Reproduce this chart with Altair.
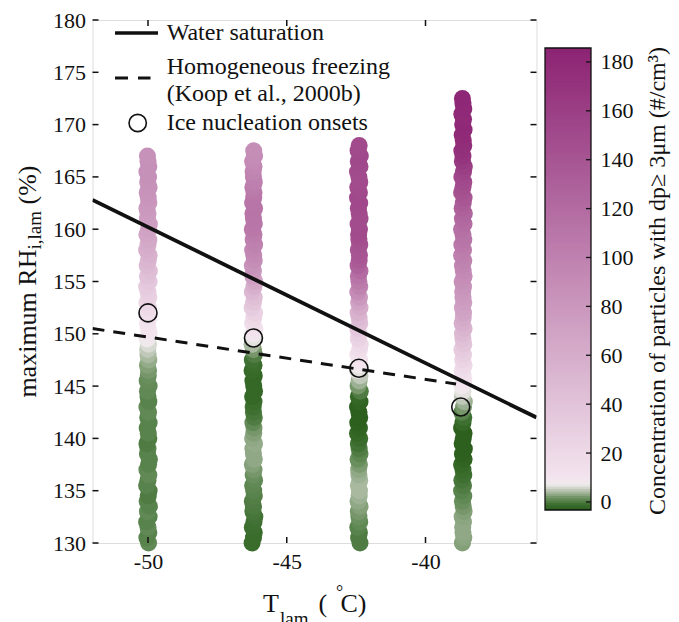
import altair as alt
import pandas as pd
import numpy as np

FONT = "Liberation Serif"
INK = "#111111"

# ---------------- data ----------------
col_T = [-50.0, -46.2, -42.4, -38.65]

col1_rh = [130,130.5,131,131.5,132,132.5,133,133.5,134,134.5,135,135.5,136,136.5,137,137.5,
           138,138.5,139,139.5,140,140.5,141,141.5,142,142.5,143,143.5,144,144.5,145,145.5,
           146,146.5,147,147.5,148,148.5,149,149.5,150,150.5,151,151.5,152,152.5,153,153.5,
           154,154.5,155,155.5,156,156.5,157,157.5,158,158.5,159,159.5,160,160.5,161,161.5,
           162,162.5,163,163.5,164,164.5,165,165.5,166,166.5,167]
col1_conc = [1,0.5,0.5,1,0.5,0.5,1,0.5,0.5,0,0,0.5,0.5,1,1,0.5,
             0.5,0.5,0.5,0,0,0.5,0.5,0.5,0.5,1,1,0.5,0.5,1,1,1.2,
             1.5,2,2.5,3.2,4,5,6,7.5,9,10,11,13,15,18,22,26,
             30,33,36,40,44,48,52,55,58,61,64,67,70,72,74,76,
             78,80,82,83,84,85,86,86,86,86,85]

col2_rh = [130,130.5,131,131.5,132,132.5,133,133.5,134,134.5,135,135.5,136,136.5,137,137.5,
           138,138.5,139,139.5,140,140.5,141,141.5,142,142.5,143,143.5,144,144.5,145,145.5,
           146,146.5,147,147.5,148,148.5,149,149.5,150,150.5,151,151.5,152,152.5,153,153.5,
           154,154.5,155,155.5,156,156.5,157,157.5,158,158.5,159,159.5,160,160.5,161,161.5,
           162,162.5,163,163.5,164,164.5,165,165.5,166,166.5,167,167.5]
col2_conc = [-1.5,-1.5,-1.5,-1.2,-1,-0.8,-0.5,-0.2,0,0.2,0.5,0.8,1,1.5,2,2.5,
             3,3,3,3.2,3,2.5,2,1,0,-0.5,-1,-1.5,-2,-2,-2,-2,
             -2,-1.8,-1.5,-1,0,2,4,6.5,9,12,16,21,26,32,38,44,
             50,57,65,72,80,84,88,92,95,98,100,104,108,109,110,111,
             112,111,110,108,105,102,100,97,95,92,90,88]

col3_rh = [130,130.5,131,131.5,132,132.5,133,133.5,134,134.5,135,135.5,136,136.5,137,137.5,
           138,138.5,139,139.5,140,140.5,141,141.5,142,142.5,143,143.5,144,144.5,145,145.5,
           146,146.5,147,147.5,148,148.5,149,149.5,150,150.5,151,151.5,152,152.5,153,153.5,
           154,154.5,155,155.5,156,156.5,157,157.5,158,158.5,159,159.5,160,160.5,161,161.5,
           162,162.5,163,163.5,164,164.5,165,165.5,166,166.5,167,167.5,168]
col3_conc = [0,0,0,0.5,1,1.5,2,2.5,3,3.5,4,4,4,3.5,3,2.2,
             1.5,0.8,0,-0.8,-1.5,-2,-2.5,-2.8,-3,-3,-3,-2.5,-2,0,2,3.5,
             5,6.5,8,10,12,16,20,25,30,36,42,48,55,62,70,80,
             90,98,105,112,120,128,135,138,140,142,145,148,150,149,148,149,
             150,151,152,151,150,149,148,149,150,151,152,151,150]

col4_rh = [130,130.5,131,131.5,132,132.5,133,133.5,134,134.5,135,135.5,136,136.5,137,137.5,
           138,138.5,139,139.5,140,140.5,141,141.5,142,142.5,143,143.5,144,144.5,145,145.5,
           146,146.5,147,147.5,148,148.5,149,149.5,150,150.5,151,151.5,152,152.5,153,153.5,
           154,154.5,155,155.5,156,156.5,157,157.5,158,158.5,159,159.5,160,160.5,161,161.5,
           162,162.5,163,163.5,164,164.5,165,165.5,166,166.5,167,167.5,168,168.5,169,169.5,
           170,170.5,171,171.5,172,172.5]
col4_conc = [2.5,2.8,3,3,3,2.8,2.5,2,1.5,1,0.5,0,-0.5,-1,-1.5,-2,
             -2.5,-2.8,-3,-3,-3,-3,-3,-2,-1,0.5,2,3.5,5,6.5,8,10,
             13,16,20,24,28,33,38,43,48,53,58,63,68,71,74,77,
             80,83,86,89,92,95,98,101,104,107,110,112,115,118,122,126,
             130,134,138,142,145,148,152,156,160,165,170,173,175,177,178,179,
             180,179,178,179,180,182]

# small horizontal wobble of the points (degC)
wobble = [0.02,-0.04,0.03,0.00,-0.05,0.04,-0.02,0.05,-0.03,0.01,0.04,-0.05,0.00,0.03,-0.04,
          0.02,0.05,-0.02,0.00,-0.04,0.03,0.01,-0.03,0.04,-0.01,0.02,-0.04,0.03,0.00,-0.02,
          0.04,-0.03,0.01,0.02,-0.02,0.03,0.00,-0.01,0.02,-0.03,0.04,0.01,-0.02,0.03,-0.05]
wobble_shift = [0, 11, 23, 34]

onset_T = [-50.0, -46.2, -42.4, -38.73]
onset_RH = [152.0, 149.6, 146.7, 143.0]

ws_T = [-52, -36]
ws_RH = [162.8, 142.0]
koop_T = [-52, -38.9]
koop_RH = [150.5, 145.2]

x_ticks = [-50, -45, -40]
y_ticks = [130, 135, 140, 145, 150, 155, 160, 165, 170, 175, 180]
cb_ticks = [0, 20, 40, 60, 80, 100, 120, 140, 160, 180]
cb_lo, cb_hi = -3.3, 185.7

# ---------------- tables ----------------
rows = []
cols = [(col1_rh, col1_conc), (col2_rh, col2_conc), (col3_rh, col3_conc), (col4_rh, col4_conc)]
for k, (rhs, concs) in enumerate(cols):
    for i, (r, c) in enumerate(zip(rhs, concs)):
        w = wobble[(i + wobble_shift[k]) % len(wobble)]
        rows.append({"T": col_T[k] + w, "RH": r, "conc": c})
pts = pd.DataFrame(rows)

onsets = pd.DataFrame({"T": onset_T, "RH": onset_RH})
ws = pd.DataFrame({"T": ws_T, "RH": ws_RH})
koop = pd.DataFrame({"T": koop_T, "RH": koop_RH})
xt = pd.DataFrame({"v": x_ticks})
yt = pd.DataFrame({"v": y_ticks})
cbt = pd.DataFrame({"v": cb_ticks})
edges = np.linspace(cb_lo, cb_hi, 200)
strips = pd.DataFrame({"lo": edges[:-1],
                       "hi": np.minimum(edges[1:] + 0.5, cb_hi),
                       "conc": (edges[:-1] + edges[1:]) / 2})
cb_box = pd.DataFrame({"lo": [cb_lo], "hi": [cb_hi]})
one = pd.DataFrame({"a": [0]})

W, H = 444, 523

xscale = alt.Scale(domain=[-52, -36], nice=False, zero=False)
yscale = alt.Scale(domain=[130, 180], nice=False, zero=False)
cbscale = alt.Scale(domain=[-16.8, 197.16], nice=False, zero=False)
cscale = alt.Scale(domain=[-3.3, -1, 1.5, 4, 7, 10, 185.7],
                   range=["#2a5d1b", "#3e7031", "#6a8f5e", "#a9b9a0", "#eeeaec", "#f3e4ee", "#8c2373"],
                   interpolate="rgb")

xaxis = alt.Axis(values=x_ticks, title=None, ticks=False, domain=False, grid=False,
                 labelFont=FONT, labelFontSize=22, labelColor=INK, labelPadding=8,
                 labelExpr="'' + datum.value")
yaxis = alt.Axis(values=y_ticks, title=None, ticks=False, domain=False, grid=False,
                 labelFont=FONT, labelFontSize=22, labelColor=INK, labelPadding=7)
cb_axis = alt.Axis(orient="right", offset=54.5, values=cb_ticks, title=None, ticks=False,
                   domain=False, grid=False, labelFont=FONT, labelFontSize=22,
                   labelColor=INK, labelPadding=9)


def X(f):
    return alt.X(f, scale=xscale, axis=xaxis)


def Y(f):
    return alt.Y(f, scale=yscale, axis=yaxis)


def CBY(f):
    return alt.Y(f, scale=cbscale, axis=cb_axis)


points = alt.Chart(pts).mark_circle(size=290, opacity=1).encode(
    x=X("T:Q"), y=Y("RH:Q"),
    color=alt.Color("conc:Q", scale=cscale, legend=None),
)

ws_line = alt.Chart(ws).mark_line(color=INK, strokeWidth=3.8, clip=True).encode(
    x=X("T:Q"), y=Y("RH:Q"))
koop_line = alt.Chart(koop).mark_line(color=INK, strokeWidth=3, strokeDash=[12, 9], clip=True).encode(
    x=X("T:Q"), y=Y("RH:Q"))

onset_pts = alt.Chart(onsets).mark_point(shape="circle", filled=False, size=324, color=INK,
                                          strokeWidth=1.6, opacity=1).encode(
    x=X("T:Q"), y=Y("RH:Q"))

tick_kw = dict(color=INK, strokeWidth=1.5)
xt_bot = alt.Chart(xt).mark_rule(**tick_kw).encode(x=X("v:Q"), y=alt.value(H - 6), y2=alt.value(H))
xt_top = alt.Chart(xt).mark_rule(**tick_kw).encode(x=X("v:Q"), y=alt.value(0), y2=alt.value(6))
yt_left = alt.Chart(yt).mark_rule(**tick_kw).encode(y=Y("v:Q"), x=alt.value(0), x2=alt.value(6))
yt_right = alt.Chart(yt).mark_rule(**tick_kw).encode(y=Y("v:Q"), x=alt.value(W - 6), x2=alt.value(W))


def txt(s, x, y, size, align="left", baseline="middle", angle=0):
    kw = dict(align=align, baseline=baseline, font=FONT, fontSize=size, color=INK)
    if angle:
        kw["angle"] = angle
    return alt.Chart(one).mark_text(**kw).encode(
        x=alt.value(x), y=alt.value(y), text=alt.value(s))


# legend
leg_solid = alt.Chart(one).mark_rule(color=INK, strokeWidth=3.5).encode(
    x=alt.value(22.5), x2=alt.value(65.5), y=alt.value(13))
leg_dash = alt.Chart(one).mark_rule(color=INK, strokeWidth=3, strokeDash=[13, 10]).encode(
    x=alt.value(22.5), x2=alt.value(58), y=alt.value(58))
leg_circ = alt.Chart(one).mark_point(shape="circle", filled=False, size=300, color=INK,
                                      strokeWidth=1.6, opacity=1).encode(
    x=alt.value(45.2), y=alt.value(103))
leg_texts = [
    txt("Water saturation", 74.2, 13, 24),
    txt("Homogeneous freezing", 74.2, 47, 24),
    txt("(Koop et al., 2000b)", 74.2, 74, 24),
    txt("Ice nucleation onsets", 74.2, 103, 24),
]

# axis titles
ytitle = [
    txt("maximum RH", -64.5, 377.6, 26, angle=270),
    txt("i,lam", -57.5, 229.5, 19, angle=270),
    txt("(%)", -64.5, 184.5, 26, angle=270),
]
xtitle = [
    txt("T", 170.5, 592, 26, baseline="alphabetic"),
    txt("lam", 187.5, 605, 19, baseline="alphabetic"),
    txt("(", 226, 592, 26, baseline="alphabetic"),
    txt("°", 247, 578, 18, align="center", baseline="alphabetic"),
    txt("C)", 248, 592, 26, baseline="alphabetic"),
]
cb_title = txt("Concentration of particles with dp≥ 3μm (#/cm³)", 565, 261, 24,
               align="center", angle=270)

main = alt.layer(points, ws_line, koop_line, onset_pts, xt_bot, xt_top, yt_left, yt_right,
                 leg_solid, leg_dash, leg_circ, *leg_texts, *ytitle, *xtitle, cb_title)

cb_rects = alt.Chart(strips).mark_rect(strokeWidth=0).encode(
    x=alt.value(452.5), x2=alt.value(498.5),
    y=CBY("lo:Q"), y2="hi:Q",
    color=alt.Color("conc:Q", scale=cscale, legend=None))
cb_border = alt.Chart(cb_box).mark_rect(fillOpacity=0, stroke=INK, strokeWidth=1.3).encode(
    x=alt.value(452.5), x2=alt.value(498.5), y=CBY("lo:Q"), y2="hi:Q")
cb_tick = alt.Chart(cbt).mark_rule(color=INK, strokeWidth=1.3).encode(
    x=alt.value(493.5), x2=alt.value(498.5), y=CBY("v:Q"))
cbar = alt.layer(cb_rects, cb_border, cb_tick)

chart = alt.layer(main, cbar).resolve_scale(y="independent").properties(
    width=W, height=H,
    autosize=alt.AutoSizeParams(type="none"),
    padding={"left": 84.5, "top": 12, "right": 134, "bottom": 100},
).configure_view(stroke=INK, strokeWidth=1.5).configure(background="white")

chart.save("out.html", embed_options={"renderer": "svg", "actions": False})
